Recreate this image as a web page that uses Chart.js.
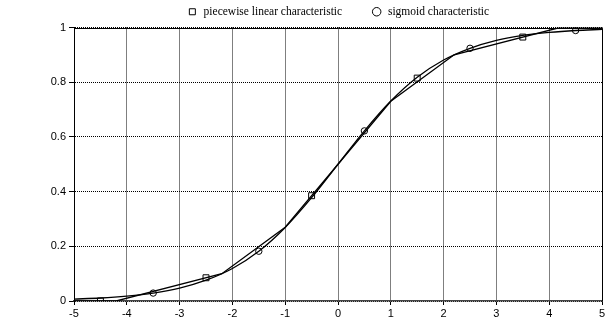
<!DOCTYPE html>
<html>
<head>
<meta charset="utf-8">
<script src="https://cdn.jsdelivr.net/npm/chart.js@4"></script>
<style>
  html, body { margin: 0; padding: 0; background: #fff; }
</style>
</head>
<body>
<canvas id="chart" width="611" height="320"></canvas>
<script>
// sigmoid curve, every 0.5
const sigmoidX = [-5, -4.5, -4, -3.5, -3, -2.5, -2, -1.5, -1, -0.5, 0, 0.5, 1, 1.5, 2, 2.5, 3, 3.5, 4, 4.5, 5];
const sigmoidY = [0.007, 0.011, 0.018, 0.029, 0.047, 0.076, 0.119, 0.182, 0.269, 0.378, 0.5, 0.622, 0.731, 0.818, 0.881, 0.924, 0.953, 0.971, 0.982, 0.989, 0.993];

// piecewise linear characteristic (break points)
const linearX = [-5, -4.2, -2.2, -1, 1, 2.2, 4.2, 5];
const linearY = [0, 0, 0.1, 0.27, 0.73, 0.9, 1, 1];

// marker positions
const linearMarkX = [-4.5, -2.5, -0.5, 1.5, 3.5];
const linearMarkY = [0, 0.085, 0.385, 0.815, 0.965];
const sigmoidMarkX = [-3.5, -1.5, 0.5, 2.5, 4.5];
const sigmoidMarkY = [0.029, 0.182, 0.622, 0.924, 0.989];

const xMin = -5, xMax = 5, xStep = 1;
const yMin = 0, yMax = 1, yStep = 0.2;

const toPoints = (xs, ys) => xs.map((x, i) => ({ x: x, y: ys[i] }));

// solid top and right edges of the plot box
const frame = {
  id: 'frame',
  beforeDatasetsDraw(chart) {
    const { ctx, chartArea } = chart;
    ctx.save();
    ctx.strokeStyle = '#000';
    ctx.lineWidth = 1;
    ctx.beginPath();
    ctx.moveTo(Math.round(chartArea.left) + 0.5, Math.round(chartArea.top) + 0.5);
    ctx.lineTo(Math.round(chartArea.right) + 0.5, Math.round(chartArea.top) + 0.5);
    ctx.lineTo(Math.round(chartArea.right) + 0.5, Math.round(chartArea.bottom) + 0.5);
    ctx.stroke();
    ctx.restore();
  }
};

const tickFont = { family: '"Liberation Sans", Arial, sans-serif', size: 11 };

new Chart(document.getElementById('chart').getContext('2d'), {
  type: 'scatter',
  data: {
    datasets: [
      {
        label: 'linear line',
        data: toPoints(linearX, linearY),
        showLine: true,
        borderColor: '#000',
        borderWidth: 1.3,
        pointRadius: 0,
        fill: false
      },
      {
        label: 'sigmoid line',
        data: toPoints(sigmoidX, sigmoidY),
        showLine: true,
        borderColor: '#000',
        borderWidth: 1.3,
        pointRadius: 0,
        cubicInterpolationMode: 'monotone',
        fill: false
      },
      {
        label: 'piecewise linear characteristic',
        data: toPoints(linearMarkX, linearMarkY),
        showLine: false,
        pointStyle: 'rect',
        pointRadius: 4.2,
        borderColor: '#000',
        borderWidth: 1,
        backgroundColor: 'rgba(0,0,0,0)'
      },
      {
        label: 'sigmoid characteristic',
        data: toPoints(sigmoidMarkX, sigmoidMarkY),
        showLine: false,
        pointStyle: 'circle',
        pointRadius: 3.2,
        borderColor: '#000',
        borderWidth: 1,
        backgroundColor: 'rgba(0,0,0,0)'
      }
    ]
  },
  options: {
    responsive: false,
    animation: false,
    layout: { padding: { top: 0, right: 9, bottom: 0, left: 0 } },
    plugins: {
      tooltip: { enabled: false },
      legend: {
        position: 'top',
        fullSize: false,
        labels: {
          // only the marker series go in the legend, with a wider gap after the first one
          generateLabels: (chart) => {
            const items = Chart.defaults.plugins.legend.labels.generateLabels(chart)
              .filter(item => item.datasetIndex >= 2);
            items[0].text += '        ';
            return items;
          },
          usePointStyle: true,
          boxHeight: 6,
          boxWidth: 11,
          padding: 6,
          color: '#000',
          font: { family: '"Liberation Serif", "Times New Roman", serif', size: 11.5 }
        }
      }
    },
    scales: {
      x: {
        type: 'linear',
        min: xMin,
        max: xMax,
        afterFit: (scale) => { scale.height = 19; },
        ticks: { stepSize: xStep, color: '#000', font: tickFont, padding: 2, maxRotation: 0 },
        grid: { color: '#000', lineWidth: 1, tickLength: 4, tickBorderDash: [], tickColor: '#000' },
        border: { color: '#444', width: 1.5, dash: [1, 1] }
      },
      y: {
        type: 'linear',
        min: yMin,
        max: yMax,
        afterFit: (scale) => { scale.width = 74; },
        ticks: {
          stepSize: yStep,
          color: '#000',
          font: tickFont,
          padding: 3,
          callback: (value) => String(Number(value.toFixed(1)))
        },
        grid: { color: '#000', lineWidth: 1, tickLength: 5, tickBorderDash: [], tickColor: '#000' },
        border: { color: '#000', width: 1, dash: [1, 1] }
      }
    }
  },
  plugins: [frame]
});
</script>
</body>
</html>
